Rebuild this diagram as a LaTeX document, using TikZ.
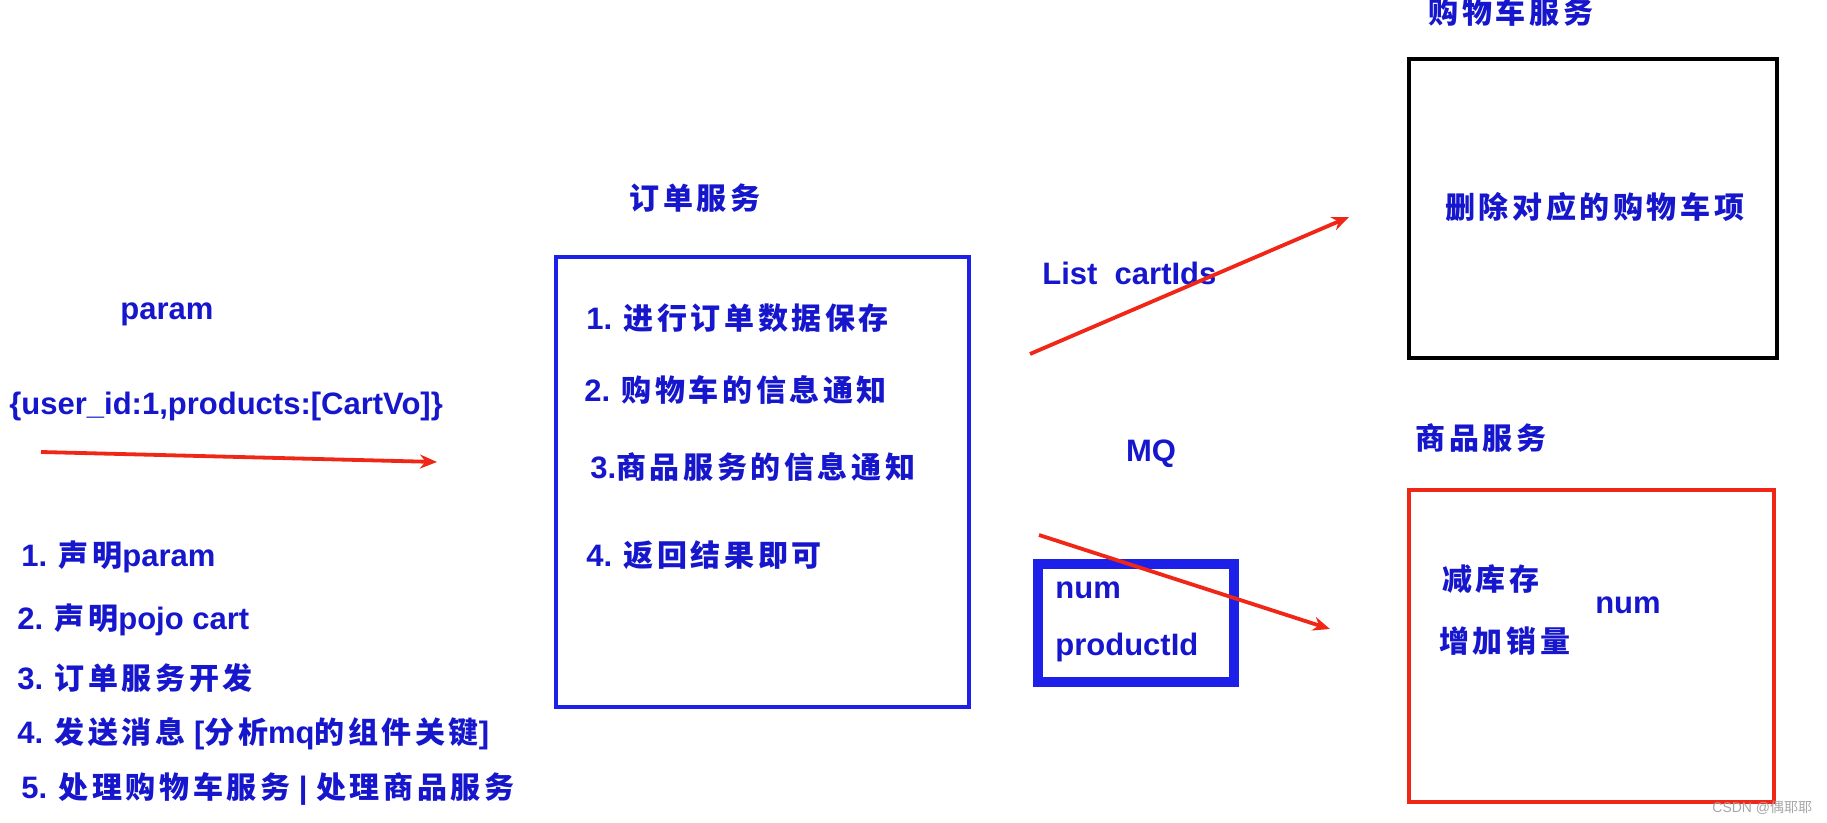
\documentclass[tikz,border=0pt]{standalone}
\usepackage{fontspec}
\setmainfont{Liberation Sans}
\newfontfamily\cjk[LetterSpace=12]{Noto Sans CJK SC}
\newfontfamily\cjkznak{Noto Sans CJK SC}
\usetikzlibrary{arrows.meta}
\newcommand\zh[1]{{\cjk\fontsize{15}{18}\selectfont #1}}
\definecolor{tinta}{RGB}{22,22,205}
\definecolor{modra}{RGB}{28,32,232}
\definecolor{rdeca}{RGB}{240,38,22}
\tikzset{
	slika/.style={x=0.5pt, y=-0.5pt, font=\fontsize{15.5}{18}\selectfont\bfseries,
	              >={Stealth[length=8.5pt,width=7pt]}},
	besedilo/.style={text=tinta, inner sep=0pt, anchor=west},
	naslov/.style={text=tinta, inner sep=0pt},
	okvir/.style={draw, inner sep=0pt},
	puscica/.style={->, draw=rdeca, line width=1.9pt},
}

\begin{document}
\begin{tikzpicture}[slika]
\useasboundingbox (0,0) rectangle (1827,823);

% levo: parametri in koraki
\node[naslov] (param) at (167,314) {param};
\node[besedilo] (json) at (9,406) {\{user\_id:1,products:[CartVo]\}};
\coordinate (vhodA) at (41,452);
\coordinate (vhodB) at (437,462);
\draw[puscica] (vhodA) -- (vhodB);

\node[besedilo] (k1) at (21,557) {1. \zh{声明}param};
\node[besedilo] (k2) at (17,620) {2. \zh{声明}pojo cart};
\node[besedilo] (k3) at (17,678) {3. \zh{订单服务开发}};
\node[besedilo] (k4) at (17,734) {4. \zh{发送消息} [\zh{分析}mq\zh{的组件关键}]};
\node[besedilo] (k5) at (21,789) {5. \zh{处理购物车服务} | \zh{处理商品服务}};

% sredina: storitev narocil
\node[naslov] (narocila) at (695,198) {\zh{订单服务}};
\node[okvir, draw=modra, line width=1.75pt, minimum width=206.5pt, minimum height=225pt]
    (narocilaBox) at (762.5,482) {};
\node[besedilo] (n1) at (586,318) {1. \zh{进行订单数据保存}};
\node[besedilo] (n2) at (584,390) {2. \zh{购物车的信息通知}};
\node[besedilo] (n3) at (590,467) {3.\zh{商品服务的信息通知}};
\node[besedilo] (n4) at (586,555) {4. \zh{返回结果即可}};

% MQ
\node[besedilo] (listaId) at (1042,273) {List\ \ cartIds};
\node[naslov] (mq) at (1151,454) {MQ};
\node[okvir, draw=modra, line width=5pt, minimum width=98pt, minimum height=59pt]
    (mqBox) at (1136,623) {};
\node[besedilo] (mqNum) at (1055,590) {num};
\node[besedilo] (mqIzdelek) at (1055,647) {productId};

\coordinate (kosA) at (1030,354);
\coordinate (kosB) at (1349,217);
\draw[puscica] (kosA) -- (kosB);
\coordinate (blagoA) at (1039,535);
\coordinate (blagoB) at (1330,629);
\draw[puscica] (blagoA) -- (blagoB);

% desno: kosarica in blago
\node[naslov] (kosarica) at (1511,12) {\zh{购物车服务}};
\node[okvir, draw=black, line width=2pt, minimum width=184pt, minimum height=149.5pt]
    (kosaricaBox) at (1593,208.5) {};
\node[besedilo] (brisi) at (1445,207) {\zh{删除对应的购物车项}};

\node[naslov] (blago) at (1481,438) {\zh{商品服务}};
\node[okvir, draw=rdeca, line width=2pt, minimum width=182.5pt, minimum height=156pt]
    (blagoBox) at (1591.5,646) {};
\node[besedilo] (zaloga) at (1442,579) {\zh{减库存}};
\node[besedilo] (prodaja) at (1439,641) {\zh{增加销量}};
\node[naslov] (blagoNum) at (1628,605) {num};

\node[inner sep=0pt, anchor=west, text=gray!70, font=\fontsize{7}{8}\selectfont]
    (znak) at (1712,808) {CSDN @{\cjkznak 偶耶耶}};
\end{tikzpicture}
\end{document}
